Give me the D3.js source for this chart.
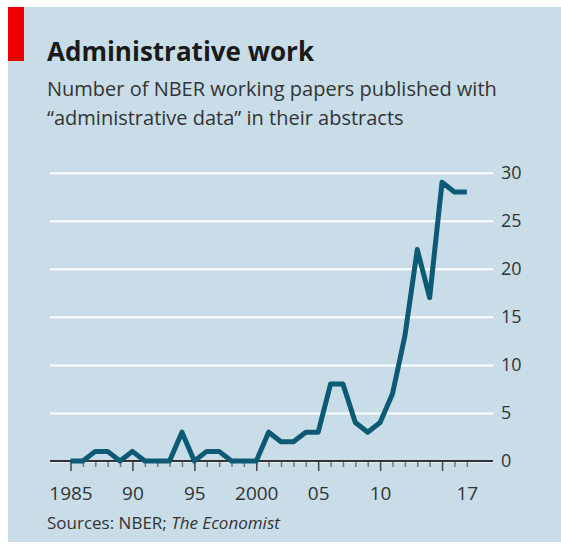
<!DOCTYPE html>
<html>
<head>
<meta charset="utf-8">
<script src="https://cdn.jsdelivr.net/npm/d3@7"></script>
<style>
  body { margin: 0; background: #fff; }
  svg { display: block; }
  text { font-family: "Open Sans", sans-serif; }
</style>
</head>
<body>
<svg width="561" height="546"></svg>
<script>
// data
var years = d3.range(1985, 2018);
var papers = [0, 0, 1, 1, 0, 1, 0, 0, 0, 3, 0, 1, 1, 0, 0, 0, 3, 2, 2, 3, 3, 8, 8, 4, 3, 4, 7, 13, 22, 17, 29, 28, 28];
var yTicks = [0, 5, 10, 15, 20, 25, 30];
var xLabelYears = [1985, 1990, 1995, 2000, 2005, 2010, 2017];
var xLabels = ["1985", "90", "95", "2000", "05", "10", "17"];

var data = years.map(function(d, i) { return {year: d, val: papers[i]}; });

var svg = d3.select("svg");

// panel
svg.append("rect")
  .attr("x", 8).attr("y", 7)
  .attr("width", 553).attr("height", 535)
  .attr("fill", "#c9dde8");

svg.append("rect")
  .attr("x", 8).attr("y", 7)
  .attr("width", 16).attr("height", 54)
  .attr("fill", "#ee0000");

svg.append("text")
  .attr("x", 47).attr("y", 61)
  .style("font-size", "26px")
  .style("font-weight", "bold")
  .attr("fill", "#1a1a1a")
  .text("Administrative work");

svg.append("text")
  .attr("x", 47).attr("y", 96)
  .style("font-size", "20px")
  .attr("fill", "#333")
  .text("Number of NBER working papers published with");

svg.append("text")
  .attr("x", 47).attr("y", 125)
  .style("font-size", "20px")
  .attr("fill", "#333")
  .text("\u201cadministrative data\u201d in their abstracts");

var xScale = d3.scaleLinear().domain([1985, 2017]).range([70.5, 466.8]);
var yScale = d3.scaleLinear().domain([0, 30]).range([461, 172.7]);

// gridlines + right labels
var yAxis = svg.append("g")
  .attr("transform", "translate(493,0)")
  .call(d3.axisRight(yScale).tickValues(yTicks).tickSize(-443).tickPadding(8));
yAxis.select(".domain").remove();
yAxis.selectAll(".tick line").attr("stroke", "#ffffff").attr("stroke-width", 2);
yAxis.selectAll(".tick text")
  .attr("fill", "#333")
  .style("font-size", "18px")
  .style("font-family", "'Open Sans', sans-serif");

// x axis with yearly ticks
var xAxis = svg.append("g")
  .attr("transform", "translate(0," + yScale(0) + ")")
  .call(d3.axisBottom(xScale).tickValues(years).tickSize(6)
    .tickFormat(function(d) {
      var i = xLabelYears.indexOf(d);
      return i >= 0 ? xLabels[i] : "";
    }));
xAxis.select(".domain").remove();
xAxis.selectAll(".tick line")
  .attr("stroke", function(d) { return d % 5 == 0 ? "#444" : "#777"; })
  .attr("stroke-width", 1.5)
  .attr("y2", function(d) { return d % 5 == 0 ? 10 : 6; });
xAxis.selectAll(".tick text")
  .attr("y", 32)
  .attr("dy", "0.35em")
  .attr("fill", "#333")
  .style("font-size", "19px")
  .style("font-family", "'Open Sans', sans-serif");

svg.append("line")
  .attr("x1", 50).attr("x2", 493)
  .attr("y1", yScale(0)).attr("y2", yScale(0))
  .attr("stroke", "#333").attr("stroke-width", 2);

var line = d3.line()
  .x(function(d) { return xScale(d.year); })
  .y(function(d) { return yScale(d.val); });

svg.append("path")
  .datum(data)
  .attr("d", line)
  .attr("fill", "none")
  .attr("stroke", "#0c5a74")
  .attr("stroke-width", 5)
  .attr("stroke-linejoin", "round");

var src = svg.append("text")
  .attr("x", 47).attr("y", 529)
  .style("font-size", "17px")
  .attr("fill", "#333");
src.append("tspan").text("Sources: NBER; ");
src.append("tspan").style("font-style", "italic").text("The Economist");
</script>
</body>
</html>
